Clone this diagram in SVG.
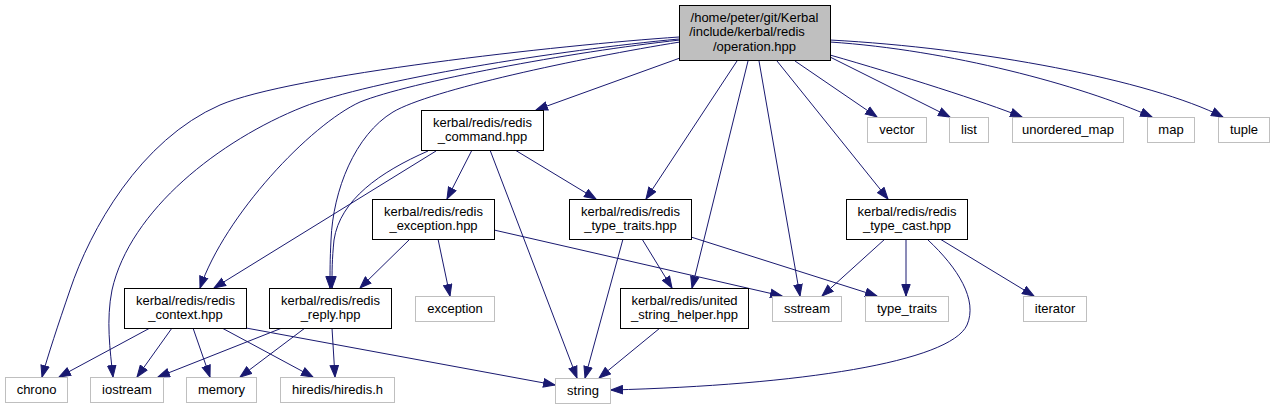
<svg xmlns="http://www.w3.org/2000/svg" width="1275" height="409" viewBox="0 0 1275 409">
<style>
.n rect{fill:#fff;stroke:#000;stroke-width:1}
.g rect{fill:#fff;stroke:#bfbfbf;stroke-width:1}
.root rect{fill:#bfbfbf;stroke:#000;stroke-width:1}
text{font-family:"Liberation Sans",Arial,sans-serif;font-size:13px;fill:#000;text-anchor:middle}
#edges path{fill:none;stroke:#191970;stroke-width:1;marker-end:url(#a)}
</style>
<defs>
<marker id="a" markerWidth="13" markerHeight="10" refX="12" refY="5" orient="auto" markerUnits="userSpaceOnUse">
<path d="M0.5,0.8 L12,5 L0.5,9.2 z" fill="#191970" stroke="#191970" stroke-width="1"/>
</marker>
</defs>
<rect width="1275" height="409" fill="#fff"/>
<g id="edges">
<path d="M679,37 C560,45 290,75 220,105 C140,140 90,230 70,290 C58,325 48,355 42,377"/>
<path d="M679,39 C560,50 370,80 303,107 C220,140 130,210 112,290 C106,320 110,350 113,377"/>
<path d="M680,40 C570,52 410,82 360,102 C310,125 225,215 200,288"/>
<path d="M680,42 C580,58 430,90 393,112 C355,135 333,190 331,240 C330,260 330,270 330,288"/>
<path d="M680,58 L536,110"/>
<path d="M737,61 L646,199"/>
<path d="M748,61 L692,288"/>
<path d="M759,61 L800,296"/>
<path d="M777,61 L888,199"/>
<path d="M795,61 L877,117"/>
<path d="M830,57 L950,117"/>
<path d="M830,55 C900,75 985,102 1022,117"/>
<path d="M830,42 C950,50 1080,85 1152,117"/>
<path d="M830,40 C980,48 1150,80 1223,117"/>
<path d="M436,151 L214,288"/>
<path d="M428,151 C380,172 340,200 334,240 C332,260 332,270 332,288"/>
<path d="M472,150 L447,199"/>
<path d="M490,150 L577,378"/>
<path d="M515,150 L596,199"/>
<path d="M410,239 L360,288"/>
<path d="M438,239 L450,296"/>
<path d="M494,230 L782,296"/>
<path d="M623,239 L585,378"/>
<path d="M642,239 L672,288"/>
<path d="M691,237 L877,296"/>
<path d="M885,239 L822,296"/>
<path d="M906,239 L906,296"/>
<path d="M940,239 L1034,296"/>
<path d="M928,240 C958,268 978,300 967,325 C950,362 800,385 611,390"/>
<path d="M660,328 L599,378"/>
<path d="M150,328 L59,377"/>
<path d="M172,328 L137,377"/>
<path d="M193,328 L210,377"/>
<path d="M222,328 L313,377"/>
<path d="M246,328 L555,385"/>
<path d="M282,328 L158,377"/>
<path d="M305,328 L240,377"/>
<path d="M332,328 L335,377"/>
</g>
<g id="operation" class="root"><rect x="679.5" y="5.5" width="151" height="55"/><text x="754.5" y="21.5">/home/peter/git/Kerbal</text><text x="747" y="36">/include/kerbal/redis</text><text x="754.5" y="50.5">/operation.hpp</text></g>
<g id="redis_command" class="n"><rect x="421.5" y="110.5" width="122" height="40"/><text x="482.5" y="126.5">kerbal/redis/redis</text><text x="482.5" y="141">_command.hpp</text></g>
<g id="redis_exception" class="n"><rect x="372.5" y="199.5" width="122" height="40"/><text x="433.5" y="215.5">kerbal/redis/redis</text><text x="433.5" y="230">_exception.hpp</text></g>
<g id="redis_type_traits" class="n"><rect x="569.5" y="199.5" width="122" height="40"/><text x="630.5" y="215.5">kerbal/redis/redis</text><text x="630.5" y="230">_type_traits.hpp</text></g>
<g id="redis_type_cast" class="n"><rect x="846.5" y="199.5" width="121" height="40"/><text x="907" y="215.5">kerbal/redis/redis</text><text x="907" y="230">_type_cast.hpp</text></g>
<g id="redis_context" class="n"><rect x="124.5" y="288.5" width="122" height="40"/><text x="185.5" y="304.5">kerbal/redis/redis</text><text x="185.5" y="319">_context.hpp</text></g>
<g id="redis_reply" class="n"><rect x="269.5" y="288.5" width="122" height="40"/><text x="330.5" y="304.5">kerbal/redis/redis</text><text x="330.5" y="319">_reply.hpp</text></g>
<g id="united_string_helper" class="n"><rect x="620.5" y="288.5" width="128" height="40"/><text x="684.5" y="304.5">kerbal/redis/united</text><text x="684.5" y="319">_string_helper.hpp</text></g>
<g id="exception" class="g"><rect x="415.5" y="296.5" width="79" height="25"/><text x="455" y="312.5">exception</text></g>
<g id="sstream" class="g"><rect x="772.5" y="296.5" width="69" height="25"/><text x="807" y="312.5">sstream</text></g>
<g id="type_traits" class="g"><rect x="865.5" y="296.5" width="83" height="25"/><text x="907" y="312.5">type_traits</text></g>
<g id="iterator" class="g"><rect x="1023.5" y="296.5" width="63" height="25"/><text x="1055" y="312.5">iterator</text></g>
<g id="vector" class="g"><rect x="867.5" y="117.5" width="59" height="25"/><text x="897" y="133.5">vector</text></g>
<g id="list" class="g"><rect x="949.5" y="117.5" width="39" height="25"/><text x="969" y="133.5">list</text></g>
<g id="unordered_map" class="g"><rect x="1012.5" y="117.5" width="111" height="25"/><text x="1068" y="133.5">unordered_map</text></g>
<g id="map" class="g"><rect x="1147.5" y="117.5" width="47" height="25"/><text x="1171" y="133.5">map</text></g>
<g id="tuple" class="g"><rect x="1218.5" y="117.5" width="51" height="25"/><text x="1244" y="133.5">tuple</text></g>
<g id="chrono" class="g"><rect x="5.5" y="377.5" width="62" height="25"/><text x="36.5" y="393.5">chrono</text></g>
<g id="iostream" class="g"><rect x="90.5" y="377.5" width="73" height="25"/><text x="127" y="393.5">iostream</text></g>
<g id="memory" class="g"><rect x="186.5" y="377.5" width="70" height="25"/><text x="221.5" y="393.5">memory</text></g>
<g id="hiredis" class="g"><rect x="280.5" y="377.5" width="114" height="25"/><text x="337.5" y="393.5">hiredis/hiredis.h</text></g>
<g id="string" class="g"><rect x="555.5" y="378.5" width="55" height="25"/><text x="583" y="394.5">string</text></g>
</svg>
